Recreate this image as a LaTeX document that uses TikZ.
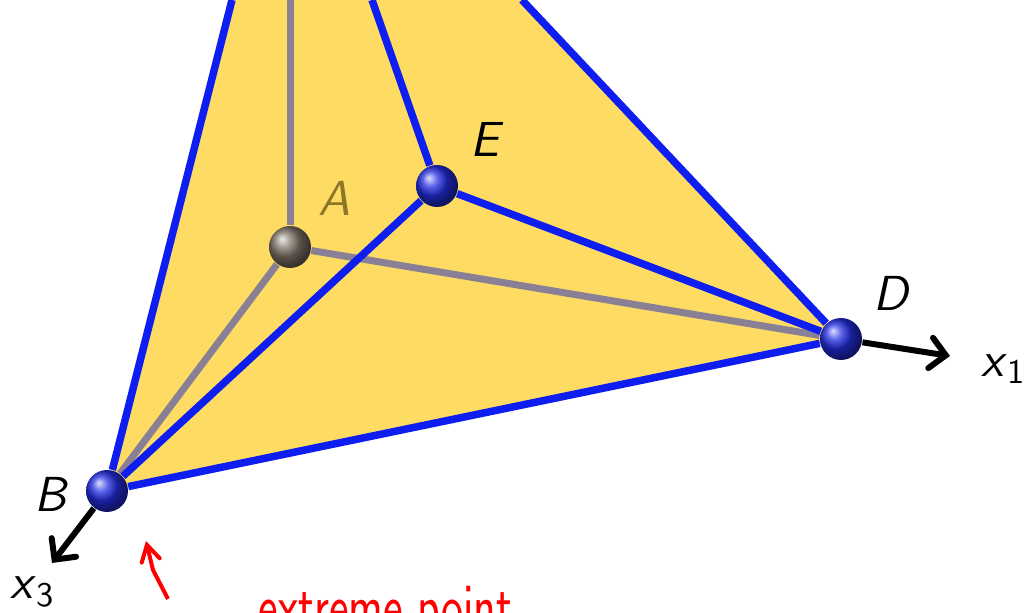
\documentclass[tikz,border=0pt]{standalone}
\usepackage{tikz}
\usetikzlibrary{backgrounds}
\usetikzlibrary{positioning}
\usetikzlibrary{%
  calc,%
  arrows%
}
\definecolor{faceyellow}{RGB}{254,220,100}
\definecolor{edgeblue}{RGB}{15,30,240}
\definecolor{edgegray}{RGB}{137,128,150}
\definecolor{labelolive}{RGB}{140,118,40}
\definecolor{ballblue}{RGB}{35,45,225}
\definecolor{ballgray}{RGB}{128,116,105}
\tikzset{
  vertexblue/.style={circle,inner sep=0pt,minimum size=0.42cm,shading=ball,ball color=ballblue},
  vertexgray/.style={circle,inner sep=0pt,minimum size=0.42cm,shading=ball,ball color=ballgray},
  vlabel/.style={font=\fontsize{14}{16}\selectfont\sffamily\itshape,inner sep=0pt},
  blueedge/.style={edgeblue,line width=0.075cm},
  grayedge/.style={edgegray,line width=0.07cm},
  axisedge/.style={black,line width=0.06cm,>=angle 90,->},
  redmark/.style={red,line width=0.04cm,>=angle 60,->}
}
\begin{document}
\begin{tikzpicture}
\useasboundingbox (0,0) rectangle (10.24,6.13);
\node[vertexgray] (A) at (2.90,3.66) {};
\node[vertexblue] (E) at (4.37,4.27) {};
\node[vertexblue] (D) at (8.41,2.74) {};
\node[vertexblue] (B) at (1.07,1.22) {};
\coordinate (topB) at (2.32,6.13);
\coordinate (topA) at (2.90,6.13);
\coordinate (topE) at (3.72,6.13);
\coordinate (topD) at (5.22,6.13);
\coordinate (endx1) at (9.50,2.57);
\coordinate (endx3) at (0.52,0.50);
\coordinate (marktail) at (1.68,0.14);
\coordinate (markmid) at (1.53,0.43);
\coordinate (markhead) at (1.46,0.72);

\node[vlabel,text=labelolive] (labelA) at (3.34,4.15) {A};
\node[vlabel] (labelE) at (4.85,4.74) {E};
\node[vlabel] (labelD) at (8.91,3.20) {D};
\node[vlabel] (labelB) at (0.50,1.19) {B};
\node[vlabel,font=\fontsize{14}{16}\selectfont\sffamily] (labelx1) at (10.04,2.44) {\textit{x}\textsubscript{1}};
\node[vlabel,font=\fontsize{14}{16}\selectfont\sffamily] (labelx3) at (0.33,0.21) {\textit{x}\textsubscript{3}};

\begin{scope}
\clip (0,0) rectangle (10.24,6.13);
\node[red,font=\fontsize{19}{22}\selectfont\sffamily,xscale=0.7,inner sep=0pt,anchor=base west] (note) at (2.58,-0.17) {extreme point};
\end{scope}

\begin{scope}[on background layer]
\fill[faceyellow] (B.center) -- (topB) -- (topD) -- (D.center) -- cycle;
\path [grayedge] (A) edge (topA)
           (A) edge (B)
           (A) edge (D);
\path [blueedge] (B) edge (topB)
           (B) edge (E)
           (B) edge (D)
           (E) edge (topE)
           (E) edge (D)
           (D) edge (topD);
\path [axisedge] (D) edge (endx1)
           (B) edge (endx3);
\draw [redmark] (marktail) -- (markmid) -- (markhead);
\end{scope}
\end{tikzpicture}
\end{document}
